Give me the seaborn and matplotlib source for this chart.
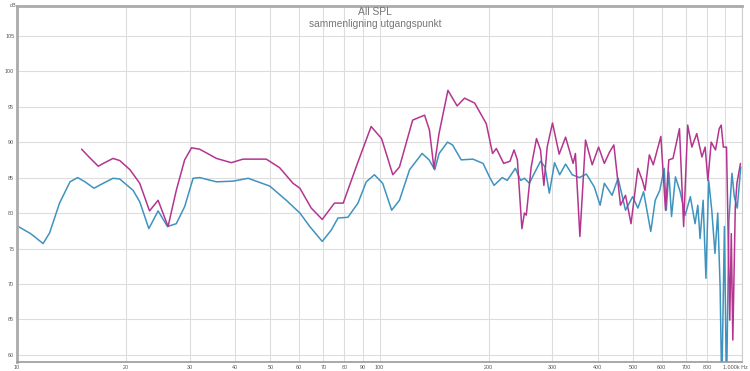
import pandas as pd
import matplotlib
matplotlib.use("Agg")
import matplotlib.pyplot as plt
from matplotlib.transforms import ScaledTranslation
import seaborn as sns

# ---- data (frequency in Hz, level in dB) ----
blue_freq = [10, 10.9, 11.8, 12.3, 13.1, 14.0, 14.7, 15.4, 16.3, 17.3, 18.4, 19.2,
             20.9, 21.8, 23.1, 24.5, 26.0, 27.5, 29.0, 30.6, 31.9, 35.5, 39.5, 43.4,
             49.8, 55.3, 60.3, 64.2, 69.5, 73.6, 76.8, 81.8, 87.2, 91.9, 96.8, 102,
             108, 113.5, 121, 131, 137, 142, 146, 154, 159, 168, 181, 193, 201, 207,
             218, 225, 237, 245, 251, 259, 266, 278, 286, 294, 304, 314, 326, 340,
             356, 372, 391, 406, 417, 438, 455, 477, 499, 516, 535, 560, 576, 593,
             610, 618, 628, 639, 655, 675, 697, 720, 742, 755, 766, 781, 795, 809,
             825, 842, 857, 870, 879, 894, 906, 920, 938, 952, 970, 992]
blue_db = [78.2, 77.1, 75.7, 77.2, 81.4, 84.4, 85.0, 84.4, 83.5, 84.2, 84.9, 84.8,
           83.2, 81.6, 77.8, 80.3, 78.1, 78.5, 80.9, 84.9, 85.0, 84.4, 84.5, 84.9,
           83.8, 81.8, 80.0, 78.1, 76.0, 77.6, 79.3, 79.4, 81.4, 84.4, 85.4, 84.2,
           80.4, 81.8, 86.1, 88.4, 87.5, 86.1, 88.4, 90.0, 89.6, 87.5, 87.6, 87.0, 85.1, 83.9,
           85.0, 84.6, 86.3, 84.6, 84.9, 84.2, 85.4, 87.3, 86.5, 82.8, 87.1, 85.4, 86.9, 85.4,
           85.0, 85.5, 83.7, 81.1, 84.2, 82.5, 84.9, 80.4, 82.3, 80.7, 83.0, 77.4, 81.8, 83.2,
           86.3, 80.4, 85.8, 79.5, 85.1, 83.0, 79.7, 82.3, 78.5, 81.1, 76.4, 81.8, 70.8, 84.6,
           80.4, 74.3, 80.0, 69.6, 55.0, 78.1, 55.0, 79.0, 85.6, 82.3, 80.7, 86.5]

pink_freq = [15.07, 15.8, 16.75, 17.3, 18.4, 19.2, 20.5, 21.8, 23.2, 24.5, 26.1, 27.5,
             29.0, 30.3, 31.9, 35.5, 39.0, 42.0, 48.7, 53.0, 57.7, 60.3, 64.8, 69.5,
             75.1, 79.4, 86.2, 94.8, 101.3, 108.8, 113.5, 123.4, 133.1, 137.3, 141.3,
             145.9, 154.4, 163.7, 171.6, 183, 197, 205, 210, 220, 229, 235, 240, 247,
             251, 254, 262, 271, 278, 284, 290, 300, 313, 326, 342, 347, 357, 370, 386,
             402, 417, 431, 443, 462, 477, 494, 516, 531, 540, 555, 569, 597, 615, 628,
             645, 672, 690, 708, 727, 750, 775, 791, 805, 822, 845, 865, 876, 888, 906,
             925, 934, 943, 958, 968, 990]
pink_db = [89.0, 87.9, 86.6, 87.0, 87.7, 87.4, 86.1, 84.2, 80.3, 81.8, 78.1, 83.2,
           87.5, 89.2, 89.0, 87.7, 87.1, 87.6, 87.6, 86.4, 84.2, 83.5, 80.7, 79.1,
           81.4, 81.4, 86.5, 92.2, 90.5, 85.4, 86.5, 93.1, 93.8, 91.7, 86.3,
           91.2, 97.3, 95.1, 96.2, 95.5, 92.6, 88.4, 89.1, 87.0, 87.3, 88.9, 87.5, 77.8,
           80.0, 79.7, 86.5, 90.5, 88.9, 83.9, 89.3, 92.7, 88.3, 90.7, 87.0, 88.4, 76.7, 90.3, 86.8,
           89.3, 87.0, 88.6, 89.6, 81.1, 82.5, 78.5, 86.3, 84.6, 83.2, 88.2, 86.8, 90.8, 80.4, 87.5,
           87.7, 91.9, 78.1, 92.4, 89.3, 91.2, 87.9, 89.3, 84.6, 90.0, 88.9, 91.9, 92.4, 89.3, 89.3,
           64.9, 77.1, 62.1, 80.9, 84.2, 87.0]

x_ticks = [10, 20, 30, 40, 50, 60, 70, 80, 90, 100, 200, 300, 400, 500, 600, 700, 800, 900, 1000]
x_labels = ["10", "20", "30", "40", "50", "60", "70", "80", "90", "100",
            "200", "300", "400", "500", "600", "700", "800", "", "1.000k Hz"]
y_ticks = [60, 65, 70, 75, 80, 85, 90, 95, 100, 105]

df = pd.concat([
    pd.DataFrame({"freq": blue_freq, "spl": blue_db, "meas": "a"}),
    pd.DataFrame({"freq": pink_freq, "spl": pink_db, "meas": "b"}),
])

sns.set_style("white")
plt.rcParams["font.family"] = ["Liberation Sans", "DejaVu Sans"]
fig = plt.figure(figsize=(7.5, 3.71), dpi=100)
ax = fig.add_axes([0.0227, 0.0243, 0.9667, 0.9597])

sns.lineplot(data=df, x="freq", y="spl", hue="meas", estimator=None, sort=False,
             palette={"a": "#3f93bf", "b": "#b3358f"}, linewidth=1.1, legend=False, ax=ax)

ax.set_xscale("log")
ax.set_xlim(10, 1000)
ax.set_ylim(59, 109.2)
ax.set_xticks(x_ticks)
ax.set_xticklabels(x_labels)
ax.minorticks_off()
ax.set_yticks(y_ticks)
ax.tick_params(axis="both", labelsize=3.9, labelcolor="#555555", length=0, pad=2)
# last label is pulled a little left of the 1 kHz line, like the original
last = ax.get_xticklabels()[-1]
last.set_transform(last.get_transform() + ScaledTranslation(-5 / 72, 0, fig.dpi_scale_trans))
ax.grid(True, color="#dddddd", linewidth=0.8)
ax.set_axisbelow(True)
ax.set_xlabel("")
ax.set_ylabel("")
for side in ["left", "top"]:
    ax.spines[side].set_color("#aaaaaa")
    ax.spines[side].set_linewidth(2)
ax.spines["bottom"].set_color("#999999")
ax.spines["bottom"].set_linewidth(1.2)
ax.spines["right"].set_color("#cccccc")
ax.spines["right"].set_linewidth(0.8)

fig.text(0.013, 0.992, "dB", fontsize=3.9, color="#555555", va="top")
fig.text(0.5, 0.982, "All SPL", fontsize=7.4, color="#777777", ha="center", va="top")
fig.text(0.5, 0.948, "sammenligning utgangspunkt", fontsize=7.3, color="#777777", ha="center", va="top")

fig.savefig("out.png", dpi=100)
